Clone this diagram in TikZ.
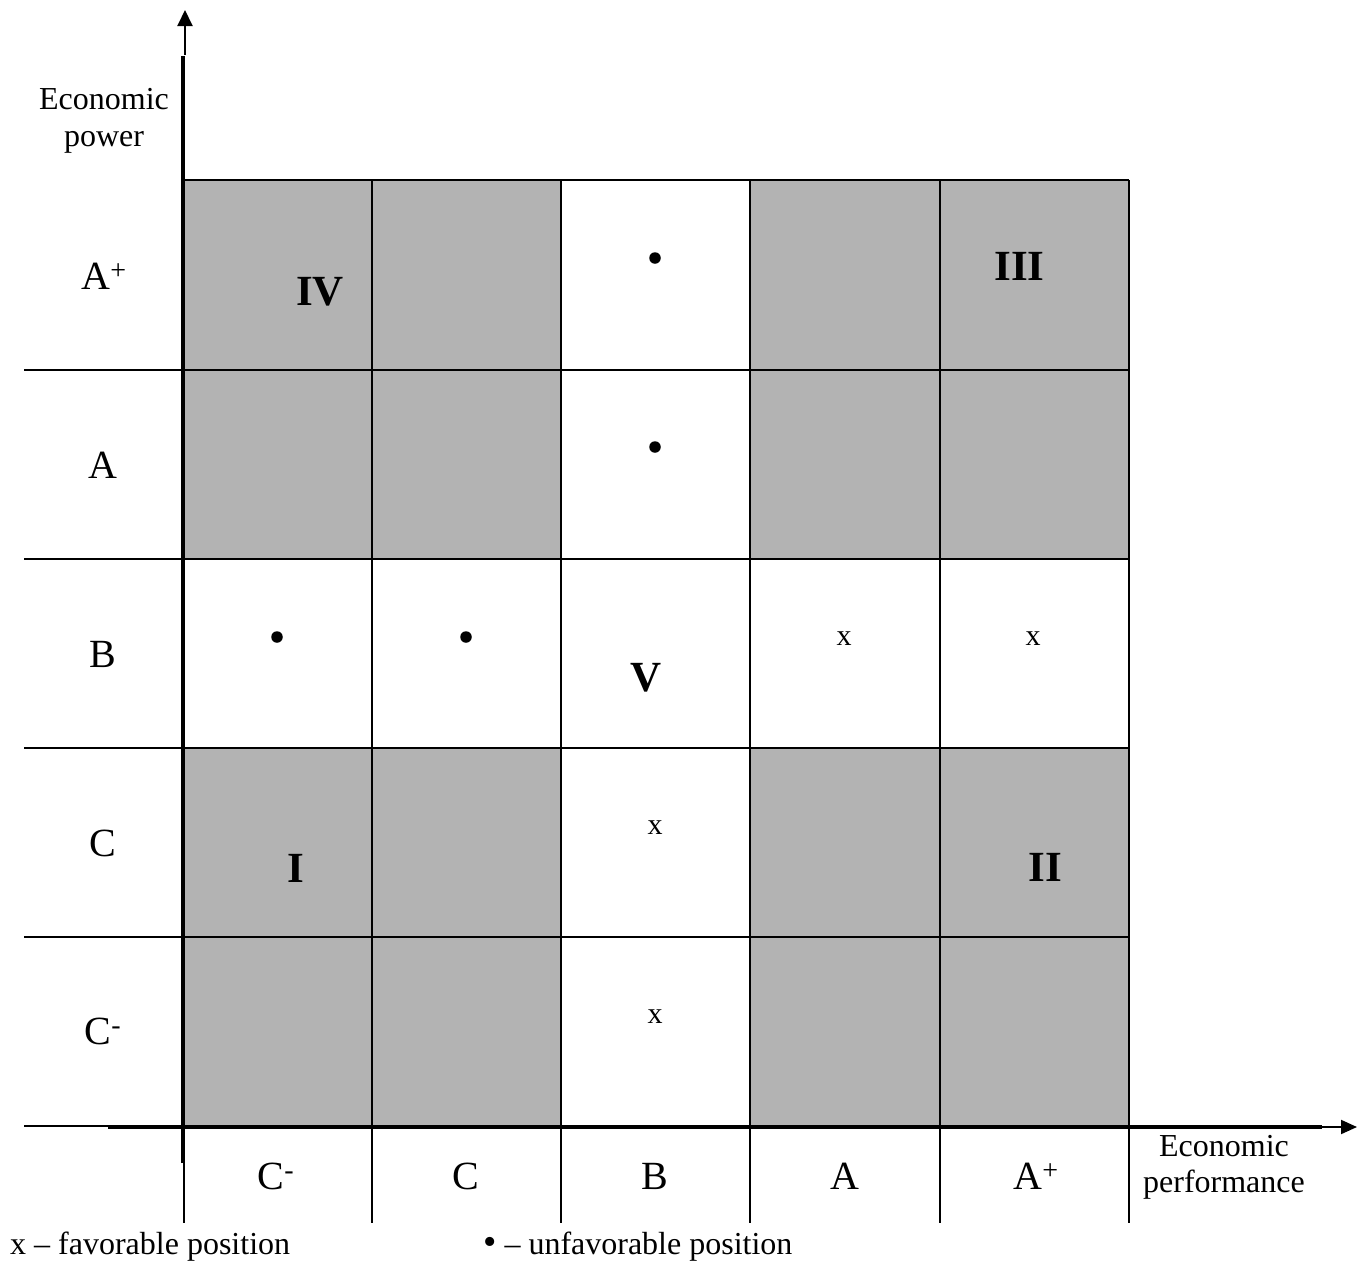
\documentclass[tikz,border=0pt]{standalone}
\usepackage{fontspec}
\setmainfont{Liberation Serif}
\usetikzlibrary{arrows.meta}
\definecolor{cellgray}{HTML}{B3B3B3}
\begin{document}
\begin{tikzpicture}[x=1pt,y=-1pt,
  lbl/.style={anchor=base,inner sep=0pt,font=\fontsize{32}{37}\selectfont},
  axlbl/.style={anchor=base,inner sep=0pt,font=\fontsize{40}{44}\selectfont},
  roman/.style={anchor=base,inner sep=0pt,font=\fontsize{43}{48}\selectfont\bfseries},
  mark x/.style={anchor=base,inner sep=0pt,font=\fontsize{30}{34}\selectfont},
  gridline/.style={line width=2pt},
  axisline/.style={line width=3.5pt},
  dotmark/.style={circle,fill=black,inner sep=0pt,minimum size=11.5pt}]
\useasboundingbox (0,0) rectangle (1366,1261);
% gray cells
\foreach \c in {184,372,750,940}{
  \foreach \r in {180,370,748,937}{
    \pgfmathsetmacro{\cc}{\c+189.5}
    \pgfmathsetmacro{\rr}{\r+189.5}
    \fill[cellgray] (\c,\r) rectangle (\cc,\rr);
  }
}
% grid lines
\foreach \c in {184,372,561,750,940,1129}{
  \draw[gridline] (\c,180) -- (\c,1223);
}
\draw[gridline] (184,180) -- (1129,180);
\foreach \r in {370,559,748,937,1126}{
  \draw[gridline] (24,\r) -- (1129,\r);
}
% axes
\coordinate (vtop) at (185,10);
\coordinate (vmid) at (185,55);
\coordinate (vlow) at (183,56);
\coordinate (vbot) at (183,1163);
\draw[axisline] (vbot) -- (vlow);
\draw[line width=2pt,-{Triangle[length=16pt,width=15pt]}] (vmid) -- (vtop);
\coordinate (hleft) at (108,1127);
\coordinate (hmid) at (1322,1127);
\coordinate (hstart) at (1320,1127);
\coordinate (hend) at (1357,1127);
\draw[axisline] (hleft) -- (hmid);
\draw[line width=2pt,-{Triangle[length=16pt,width=14pt]}] (hstart) -- (hend);
% axis titles
\node[lbl] (pw1) at (104,109) {Economic};
\node[lbl] (pw2) at (104,146) {power};
\node[lbl] (pf1) at (1224,1156) {Economic};
\node[lbl] (pf2) at (1224,1192) {performance};
% row labels
\node[axlbl] (rAp) at (104,289) {A\textsuperscript{+}};
\node[axlbl] (rA) at (103,478) {A};
\node[axlbl] (rB) at (103,667) {B};
\node[axlbl] (rC) at (103,856) {C};
\node[axlbl] (rCm) at (103,1044) {C\textsuperscript{-}};
% column labels
\node[axlbl] (cCm) at (276,1189) {C\textsuperscript{-}};
\node[axlbl] (cC) at (466,1189) {C};
\node[axlbl] (cB) at (655,1189) {B};
\node[axlbl] (cA) at (845,1189) {A};
\node[axlbl] (cAp) at (1036,1189) {A\textsuperscript{+}};
% roman numerals
\node[roman] (nIV) at (320,305) {IV};
\node[roman] (nIII) at (1019.5,280) {III};
\node[roman] (nV) at (646,691) {V};
\node[roman] (nI) at (295.5,882) {I};
\node[roman] (nII) at (1045,881) {II};
% unfavorable dots
\node[dotmark] (d1) at (655,258) {};
\node[dotmark] (d2) at (655,447) {};
\node[dotmark] (d3) at (277,637) {};
\node[dotmark] (d4) at (466,637) {};
% favorable marks
\node[mark x] (x1) at (844,645) {x};
\node[mark x] (x2) at (1033,645) {x};
\node[mark x] (x3) at (655,834) {x};
\node[mark x] (x4) at (655,1023) {x};
% legend
\node[lbl,anchor=base west] (leg1) at (10,1254) {x – favorable position};
\node[lbl,anchor=base west] (leg2) at (483,1254) {{\fontsize{38}{38}\selectfont •} – unfavorable position};
\end{tikzpicture}
\end{document}
